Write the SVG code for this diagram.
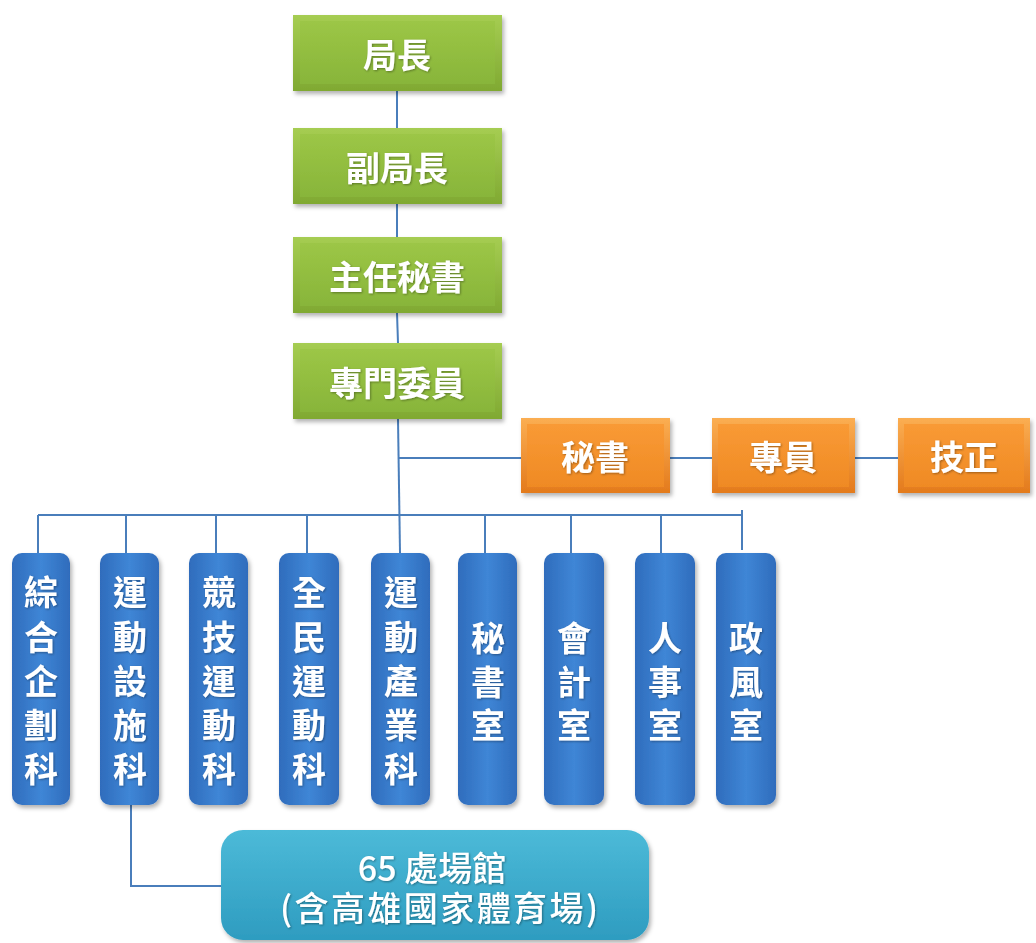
<svg xmlns="http://www.w3.org/2000/svg" width="1036" height="943" viewBox="0 0 1036 943">
<defs>
<style>
.t{font-family:"Noto Sans CJK TC","Noto Sans CJK SC",sans-serif;font-weight:700;fill:#ffffff;text-anchor:middle;dominant-baseline:central}
.g{font-size:34px}
.o{font-size:34px}
.b{font-size:34px}
.c{font-size:34px;font-weight:500}
.ln{stroke:#4a7ebb;stroke-width:2;fill:none}
</style>
<linearGradient id="gG" x1="0" y1="0" x2="0" y2="1">
<stop offset="0" stop-color="#a6cd52"/><stop offset="1" stop-color="#80a932"/>
</linearGradient>
<linearGradient id="gGi" x1="0" y1="0" x2="0" y2="1">
<stop offset="0" stop-color="#9cc646"/><stop offset="1" stop-color="#88b53a"/>
</linearGradient>
<linearGradient id="gO" x1="0" y1="0" x2="0" y2="1">
<stop offset="0" stop-color="#fbae52"/><stop offset="1" stop-color="#e37a1c"/>
</linearGradient>
<linearGradient id="gOi" x1="0" y1="0" x2="0" y2="1">
<stop offset="0" stop-color="#f99a35"/><stop offset="1" stop-color="#ef8a24"/>
</linearGradient>
<linearGradient id="gB" x1="0" y1="0" x2="1" y2="0">
<stop offset="0" stop-color="#2f6cbc"/><stop offset="0.5" stop-color="#3f86d6"/><stop offset="1" stop-color="#2f6cbc"/>
</linearGradient>
<linearGradient id="gC" x1="0" y1="0" x2="0" y2="1">
<stop offset="0" stop-color="#4cbad8"/><stop offset="1" stop-color="#2e9cc0"/>
</linearGradient>
<filter id="sh" x="-10%" y="-10%" width="130%" height="130%">
<feDropShadow dx="2" dy="3" stdDeviation="2" flood-color="#000" flood-opacity="0.3"/>
</filter>
<filter id="ts" x="-10%" y="-10%" width="120%" height="130%">
<feDropShadow dx="1" dy="1" stdDeviation="0.8" flood-color="#000" flood-opacity="0.35"/>
</filter>
</defs>
<rect width="1036" height="943" fill="#ffffff"/>

<g id="connectors">
<line class="ln" x1="397" y1="91" x2="397" y2="128"/>
<line class="ln" x1="397" y1="204" x2="397" y2="237"/>
<line class="ln" x1="397" y1="313" x2="398" y2="343"/>
<line class="ln" x1="398" y1="419" x2="400" y2="553"/>
<line class="ln" x1="398" y1="458" x2="521" y2="458"/>
<line class="ln" x1="670" y1="458" x2="712" y2="458"/>
<line class="ln" x1="855" y1="458" x2="898" y2="458"/>
<line class="ln" x1="38" y1="515" x2="742" y2="515"/>
<line class="ln" x1="38" y1="515" x2="38" y2="553"/>
<line class="ln" x1="126" y1="515" x2="126" y2="553"/>
<line class="ln" x1="216" y1="515" x2="216" y2="553"/>
<line class="ln" x1="307" y1="515" x2="307" y2="553"/>
<line class="ln" x1="485" y1="515" x2="485" y2="553"/>
<line class="ln" x1="571" y1="515" x2="571" y2="553"/>
<line class="ln" x1="661" y1="515" x2="661" y2="553"/>
<line class="ln" x1="742" y1="510" x2="742" y2="550"/>
<polyline class="ln" points="131,805 131,886 221,886"/>
</g>

<g id="n-jz" filter="url(#sh)">
<rect x="293" y="15" width="209" height="76" fill="url(#gG)"/>
<rect x="300" y="21" width="195" height="63" fill="url(#gGi)"/>
<text class="t g" x="397" y="53" filter="url(#ts)">局長</text>
</g>
<g id="n-fjz" filter="url(#sh)">
<rect x="293" y="128" width="209" height="76" fill="url(#gG)"/>
<rect x="300" y="134" width="195" height="63" fill="url(#gGi)"/>
<text class="t g" x="397" y="166" filter="url(#ts)">副局長</text>
</g>
<g id="n-zrms" filter="url(#sh)">
<rect x="293" y="237" width="209" height="76" fill="url(#gG)"/>
<rect x="300" y="243" width="195" height="63" fill="url(#gGi)"/>
<text class="t g" x="397" y="275" filter="url(#ts)">主任秘書</text>
</g>
<g id="n-zmwy" filter="url(#sh)">
<rect x="293" y="343" width="209" height="76" fill="url(#gG)"/>
<rect x="300" y="349" width="195" height="63" fill="url(#gGi)"/>
<text class="t g" x="397" y="381" filter="url(#ts)">專門委員</text>
</g>

<g id="n-ms" filter="url(#sh)">
<rect x="521" y="418" width="149" height="75" fill="url(#gO)"/>
<rect x="527" y="424" width="137" height="63" fill="url(#gOi)"/>
<text class="t o" x="595" y="455" filter="url(#ts)">秘書</text>
</g>
<g id="n-zy" filter="url(#sh)">
<rect x="712" y="418" width="143" height="75" fill="url(#gO)"/>
<rect x="718" y="424" width="131" height="63" fill="url(#gOi)"/>
<text class="t o" x="783" y="455" filter="url(#ts)">專員</text>
</g>
<g id="n-jzg" filter="url(#sh)">
<rect x="898" y="418" width="132" height="75" fill="url(#gO)"/>
<rect x="904" y="424" width="120" height="63" fill="url(#gOi)"/>
<text class="t o" x="964" y="455" filter="url(#ts)">技正</text>
</g>

<g id="n-zhqh" filter="url(#sh)">
<rect x="12" y="553" width="58" height="252" rx="10" fill="url(#gB)"/>
<text class="t b" x="41" filter="url(#ts)"><tspan x="41" y="590">綜</tspan><tspan x="41" y="635">合</tspan><tspan x="41" y="679">企</tspan><tspan x="41" y="723">劃</tspan><tspan x="41" y="767">科</tspan></text>
</g>
<g id="n-ydss" filter="url(#sh)">
<rect x="100" y="553" width="59" height="252" rx="10" fill="url(#gB)"/>
<text class="t b" x="130" filter="url(#ts)"><tspan x="130" y="590">運</tspan><tspan x="130" y="635">動</tspan><tspan x="130" y="679">設</tspan><tspan x="130" y="723">施</tspan><tspan x="130" y="767">科</tspan></text>
</g>
<g id="n-jjyd" filter="url(#sh)">
<rect x="189" y="553" width="59" height="252" rx="10" fill="url(#gB)"/>
<text class="t b" x="219" filter="url(#ts)"><tspan x="219" y="590">競</tspan><tspan x="219" y="635">技</tspan><tspan x="219" y="679">運</tspan><tspan x="219" y="723">動</tspan><tspan x="219" y="767">科</tspan></text>
</g>
<g id="n-qmyd" filter="url(#sh)">
<rect x="279" y="553" width="60" height="252" rx="10" fill="url(#gB)"/>
<text class="t b" x="309" filter="url(#ts)"><tspan x="309" y="590">全</tspan><tspan x="309" y="635">民</tspan><tspan x="309" y="679">運</tspan><tspan x="309" y="723">動</tspan><tspan x="309" y="767">科</tspan></text>
</g>
<g id="n-ydcy" filter="url(#sh)">
<rect x="371" y="553" width="59" height="252" rx="10" fill="url(#gB)"/>
<text class="t b" x="401" filter="url(#ts)"><tspan x="401" y="590">運</tspan><tspan x="401" y="635">動</tspan><tspan x="401" y="679">產</tspan><tspan x="401" y="723">業</tspan><tspan x="401" y="767">科</tspan></text>
</g>
<g id="n-mss" filter="url(#sh)">
<rect x="458" y="553" width="59" height="252" rx="10" fill="url(#gB)"/>
<text class="t b" x="488" filter="url(#ts)"><tspan x="488" y="636">秘</tspan><tspan x="488" y="680">書</tspan><tspan x="488" y="723">室</tspan></text>
</g>
<g id="n-kjs" filter="url(#sh)">
<rect x="544" y="553" width="60" height="252" rx="10" fill="url(#gB)"/>
<text class="t b" x="574" filter="url(#ts)"><tspan x="574" y="636">會</tspan><tspan x="574" y="680">計</tspan><tspan x="574" y="723">室</tspan></text>
</g>
<g id="n-rss" filter="url(#sh)">
<rect x="635" y="553" width="60" height="252" rx="10" fill="url(#gB)"/>
<text class="t b" x="665" filter="url(#ts)"><tspan x="665" y="636">人</tspan><tspan x="665" y="680">事</tspan><tspan x="665" y="723">室</tspan></text>
</g>
<g id="n-zfs" filter="url(#sh)">
<rect x="716" y="553" width="60" height="252" rx="10" fill="url(#gB)"/>
<text class="t b" x="746" filter="url(#ts)"><tspan x="746" y="636">政</tspan><tspan x="746" y="680">風</tspan><tspan x="746" y="723">室</tspan></text>
</g>

<g id="n-cg" filter="url(#sh)">
<rect x="221" y="830" width="428" height="110" rx="22" fill="url(#gC)"/>
<text class="t c" x="432" y="866" filter="url(#ts)">65 處場館</text>
<text class="t c" x="439" y="906" textLength="318" lengthAdjust="spacing" filter="url(#ts)">(含高雄國家體育場)</text>
</g>
</svg>
